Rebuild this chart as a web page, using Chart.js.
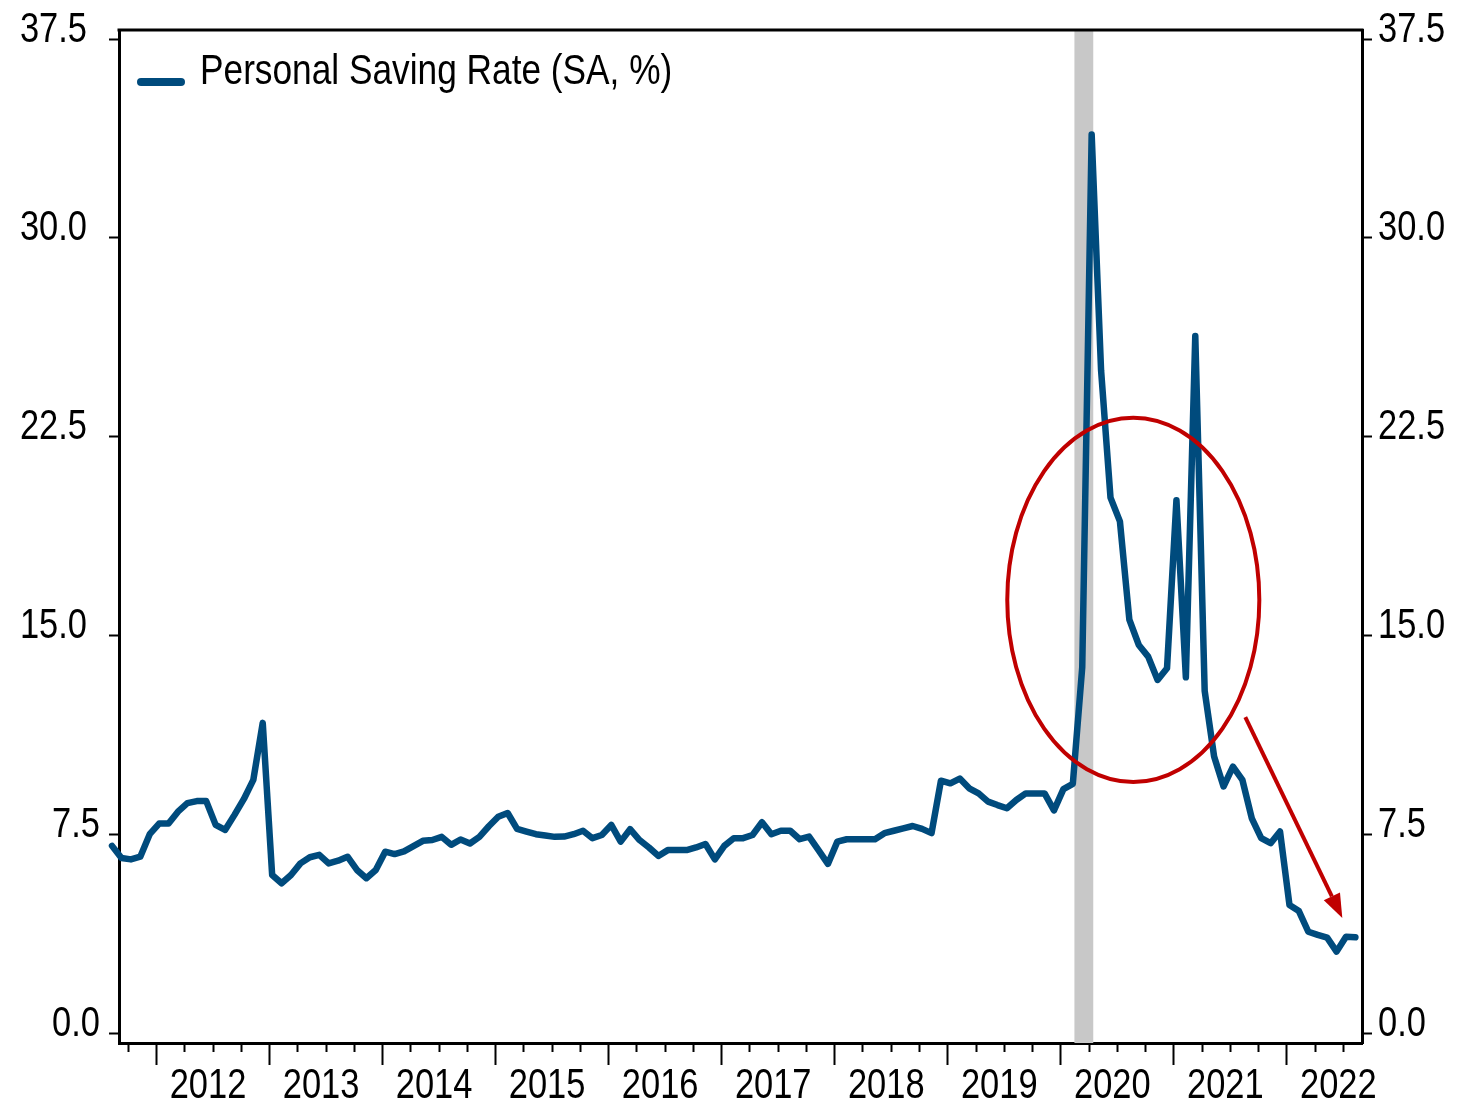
<!DOCTYPE html>
<html>
<head>
<meta charset="utf-8">
<title>Personal Saving Rate</title>
<script src="https://cdn.jsdelivr.net/npm/chart.js@4"></script>
<style>
  body { margin: 0; background: #fff; }
  #grafico { display: block; }
</style>
</head>
<body>
<canvas id="grafico" width="1464" height="1105"></canvas>
<script>
// monthly series, first point Aug 2011, last point Aug 2022
const primerMes = [2011, 8];
const tasaAhorro = [
    7.06, 6.6, 6.55, 6.65, 7.5, 7.9, 7.9, 8.35, 8.67, 8.75, 8.75, 7.85,       // ago 2011 - jul 2012
    7.66, 8.23, 8.83, 9.55, 11.7, 5.96, 5.65, 5.96, 6.4, 6.63, 6.72, 6.4,     // ago 2012 - jul 2013
    6.5, 6.65, 6.15, 5.84, 6.15, 6.84, 6.75, 6.85, 7.05, 7.25, 7.28, 7.4,     // ago 2013 - jul 2014
    7.1, 7.3, 7.15, 7.4, 7.8, 8.16, 8.3, 7.7, 7.6, 7.5, 7.45, 7.4,            // ago 2014 - jul 2015
    7.41, 7.5, 7.63, 7.35, 7.47, 7.85, 7.22, 7.69, 7.28, 7.0, 6.68, 6.9,      // ago 2015 - jul 2016
    6.9, 6.9, 7.0, 7.13, 6.55, 7.06, 7.35, 7.35, 7.47, 7.95, 7.5, 7.63,       // ago 2016 - jul 2017
    7.63, 7.31, 7.41, 6.9, 6.38, 7.22, 7.31, 7.31, 7.31, 7.31, 7.54, 7.63,    // ago 2017 - jul 2018
    7.72, 7.81, 7.7, 7.54, 9.52, 9.42, 9.6, 9.23, 9.04, 8.73, 8.6, 8.48,      // ago 2018 - jul 2019
    8.79, 9.04, 9.04, 9.04, 8.4, 9.2, 9.4, 13.8, 33.9, 25.0, 20.2, 19.3,      // ago 2019 - jul 2020
    15.6, 14.64, 14.2, 13.32, 13.76, 20.1, 13.42, 26.3, 12.9, 10.43, 9.3, 10.05, // ago 2020 - jul 2021
    9.55, 8.1, 7.35, 7.16, 7.6, 4.83, 4.6, 3.82, 3.7, 3.6, 3.07, 3.63,        // ago 2021 - jul 2022
    3.61                                                                      // ago 2022
];
const etiquetasAnios = ['2012', '2013', '2014', '2015', '2016', '2017', '2018', '2019', '2020', '2021', '2022'];
const ticksY = [0, 7.5, 15, 22.5, 30, 37.5];
const recesion = [102.5, 104.5]; // feb-abr 2020, in month units
const nombreSerie = 'Personal Saving Rate (SA, %)';

const colorLinea = '#004b7d';
const rojo = '#c00000';
const fuente = "'Liberation Sans', Arial, sans-serif";
const angosto = 0.82; // squeeze text to look like a narrow face

// month units: 0 = start of Aug 2011, point sits a little into its month
function inicioMes(anio, mes) {
    return (anio - primerMes[0]) * 12 + (mes - primerMes[1]);
}
const puntos = tasaAhorro.map((v, i) => ({ x: i + 0.33, y: v }));

function textoAngosto(ctx, txt, x, y, align, size) {
    ctx.save();
    ctx.translate(x, y);
    ctx.scale(angosto, 1);
    ctx.font = size + 'px ' + fuente;
    ctx.fillStyle = '#000';
    ctx.textAlign = align;
    ctx.textBaseline = 'middle';
    ctx.fillText(txt, 0, 0);
    ctx.restore();
}

const fondoYMarcas = {
    id: 'fondoYMarcas',
    beforeDatasetsDraw(chart) {
        const { ctx, chartArea, scales } = chart;
        const x0 = scales.x.getPixelForValue(recesion[0]);
        const x1 = scales.x.getPixelForValue(recesion[1]);
        ctx.save();
        ctx.fillStyle = '#c8c8c8';
        ctx.fillRect(x0, chartArea.top, x1 - x0, chartArea.bottom - chartArea.top);
        ctx.restore();
    },
    afterDraw(chart) {
        const { ctx, chartArea, scales } = chart;
        const sx = scales.x, sy = scales.y;
        ctx.save();
        // top border of the frame
        ctx.strokeStyle = '#000';
        ctx.lineWidth = 3;
        ctx.beginPath();
        ctx.moveTo(chartArea.left - 1.5, chartArea.top);
        ctx.lineTo(chartArea.right + 1.5, chartArea.top);
        ctx.stroke();

        // quarterly minor ticks
        ctx.lineWidth = 2;
        for (let m = inicioMes(2011, 10); m < sx.max; m += 3) {
            if ((m - inicioMes(2012, 1)) % 12 === 0) continue;
            const px = Math.round(sx.getPixelForValue(m)) + 0.5;
            ctx.beginPath();
            ctx.moveTo(px, chartArea.bottom);
            ctx.lineTo(px, chartArea.bottom + 9);
            ctx.stroke();
        }
        ctx.restore();

        // tick labels
        sy.ticks.forEach(t => {
            const txt = t.value.toFixed(1);
            const py = sy.getPixelForValue(t.value) - 9;
            textoAngosto(ctx, txt, txt.length > 3 ? 87 : 100, py, 'right', 42);
            textoAngosto(ctx, txt, chartArea.right + 16, py, 'left', 42);
        });
        sx.ticks.forEach((t, i) => {
            textoAngosto(ctx, etiquetasAnios[i], sx.getPixelForValue(t.value) + 52, chartArea.bottom + 43, 'center', 42);
        });

        // legend
        const ds = chart.data.datasets[0];
        ctx.save();
        ctx.strokeStyle = ds.borderColor;
        ctx.lineWidth = 8;
        ctx.lineCap = 'round';
        ctx.beginPath();
        ctx.moveTo(chartArea.left + 22, 82);
        ctx.lineTo(chartArea.left + 62, 82);
        ctx.stroke();
        ctx.restore();
        textoAngosto(ctx, ds.label, chartArea.left + 81, 72, 'left', 43);

        // red ellipse around the pandemic months
        const cx = sx.getPixelForValue(108.75);
        const cy = sy.getPixelForValue(16.34);
        const rx = sx.getPixelForValue(108.75 + 13.38) - cx;
        const ry = cy - sy.getPixelForValue(16.34 + 6.87);
        ctx.save();
        ctx.strokeStyle = rojo;
        ctx.lineWidth = 4;
        ctx.beginPath();
        ctx.ellipse(cx, cy, rx, ry, 0, 0, Math.PI * 2);
        ctx.stroke();

        // red arrow pointing down
        const ax0 = sx.getPixelForValue(120.64), ay0 = sy.getPixelForValue(11.92);
        const ax1 = sx.getPixelForValue(130.94), ay1 = sy.getPixelForValue(4.34);
        const ang = Math.atan2(ay1 - ay0, ax1 - ax0);
        const largo = 24, ancho = 9;
        ctx.beginPath();
        ctx.moveTo(ax0, ay0);
        ctx.lineTo(ax1 - largo * Math.cos(ang), ay1 - largo * Math.sin(ang));
        ctx.stroke();
        ctx.fillStyle = rojo;
        ctx.beginPath();
        ctx.moveTo(ax1, ay1);
        ctx.lineTo(ax1 - largo * Math.cos(ang) + ancho * Math.sin(ang), ay1 - largo * Math.sin(ang) - ancho * Math.cos(ang));
        ctx.lineTo(ax1 - largo * Math.cos(ang) - ancho * Math.sin(ang), ay1 - largo * Math.sin(ang) + ancho * Math.cos(ang));
        ctx.closePath();
        ctx.fill();
        ctx.restore();
    }
};

const ejeY = (posicion, ancho) => ({
    type: 'linear',
    position: posicion,
    min: -0.377,
    max: 37.84,
    afterBuildTicks: s => { s.ticks = ticksY.map(v => ({ value: v })); },
    afterFit: s => { s.width = ancho; },
    ticks: { display: false },
    grid: { drawOnChartArea: false, tickLength: 10, tickWidth: 2, tickColor: '#000' },
    border: { color: '#000', width: 3 }
});

const ctx = document.getElementById('grafico').getContext('2d');
new Chart(ctx, {
    type: 'line',
    data: {
        datasets: [{
            label: nombreSerie,
            data: puntos,
            borderColor: colorLinea,
            borderWidth: 6.5,
            borderCapStyle: 'round',
            borderJoinStyle: 'round',
            pointRadius: 0,
            tension: 0,
            fill: false,
            clip: false
        }]
    },
    options: {
        responsive: false,
        animation: false,
        layout: { padding: { top: 30, left: 0, right: 0, bottom: 0 } },
        plugins: {
            legend: { display: false },
            tooltip: { enabled: false }
        },
        scales: {
            x: {
                type: 'linear',
                min: 1.07,
                max: 133.03,
                afterBuildTicks: s => { s.ticks = etiquetasAnios.map(a => ({ value: inicioMes(+a, 1) })); },
                afterFit: s => { s.height = 62; },
                ticks: { display: false },
                grid: { drawOnChartArea: false, tickLength: 22, tickWidth: 2, tickColor: '#000' },
                border: { color: '#000', width: 3 }
            },
            y: ejeY('left', 119),
            y2: ejeY('right', 102)
        }
    },
    plugins: [fondoYMarcas]
});
</script>
</body>
</html>
